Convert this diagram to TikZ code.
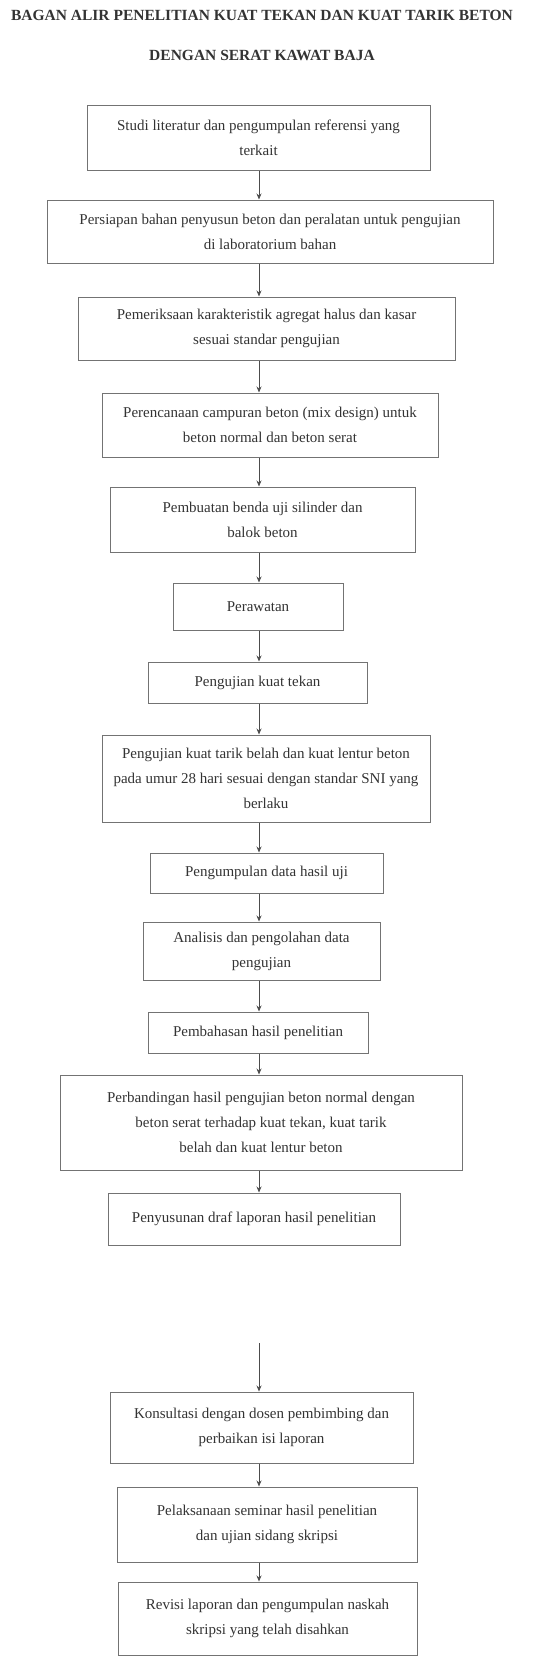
\documentclass[tikz,border=0pt]{standalone}
\usepackage{fontspec}
\setmainfont{Liberation Serif}
\usetikzlibrary{arrows.meta}
\begin{document}
\begin{tikzpicture}[x=1pt,y=-1pt,
    kotak/.style={draw=black!55, line width=1pt, align=center, inner sep=0pt,
      font=\fontsize{15}{25}\selectfont, text=black!80},
    panah/.style={-{Stealth[length=6pt,width=5pt]}, draw=black!70, line width=0.8pt}]
  \useasboundingbox (0,0) rectangle (557,1662);
  \coordinate (kol) at (259,0);

  \node [font=\bfseries\fontsize{15.5}{40}\selectfont, align=center, text=black!80] (judul) at (262,35)
    {BAGAN ALIR PENELITIAN KUAT TEKAN DAN KUAT TARIK BETON\\ DENGAN SERAT KAWAT BAJA};

  \node [kotak, minimum width=343pt, minimum height=65pt] (b1) at (258.5,137.5)
    {Studi literatur dan pengumpulan referensi yang\\ terkait};
  \node [kotak, minimum width=446pt, minimum height=63pt] (b2) at (270,231.5)
    {Persiapan bahan penyusun beton dan peralatan untuk pengujian\\ di laboratorium bahan};
  \node [kotak, minimum width=377pt, minimum height=63pt] (b3) at (266.5,328.5)
    {Pemeriksaan karakteristik agregat halus dan kasar\\ sesuai standar pengujian};
  \node [kotak, minimum width=336pt, minimum height=64pt] (b4) at (270,425)
    {Perencanaan campuran beton (mix design) untuk\\ beton normal dan beton serat};
  \node [kotak, minimum width=305pt, minimum height=65pt] (b5) at (262.5,519.5)
    {Pembuatan benda uji silinder dan\\ balok beton};
  \node [kotak, minimum width=170pt, minimum height=47pt] (b6) at (258,606.5)
    {Perawatan};
  \node [kotak, minimum width=219pt, minimum height=41pt] (b7) at (257.5,682.5)
    {Pengujian kuat tekan};
  \node [kotak, minimum width=328pt, minimum height=87pt] (b8) at (266,778.5)
    {Pengujian kuat tarik belah dan kuat lentur beton\\ pada umur 28 hari sesuai dengan standar SNI yang\\ berlaku};
  \node [kotak, minimum width=233pt, minimum height=40pt] (b9) at (266.5,873)
    {Pengumpulan data hasil uji};
  \node [kotak, minimum width=237pt, minimum height=58pt] (b10) at (261.5,951)
    {Analisis dan pengolahan data\\ pengujian};
  \node [kotak, minimum width=220pt, minimum height=41pt] (b11) at (258,1032.5)
    {Pembahasan hasil penelitian};
  \node [kotak, minimum width=402pt, minimum height=95pt] (b12) at (261,1122.5)
    {Perbandingan hasil pengujian beton normal dengan\\ beton serat terhadap kuat tekan, kuat tarik\\ belah dan kuat lentur beton};
  \node [kotak, minimum width=292pt, minimum height=52pt] (b13) at (254,1219)
    {Penyusunan draf laporan hasil penelitian};

  % lanjutan halaman berikutnya
  \coordinate (sambung) at (259,1343);
  \node [kotak, minimum width=303pt, minimum height=71pt] (b14) at (261.5,1427.5)
    {Konsultasi dengan dosen pembimbing dan\\ perbaikan isi laporan};
  \node [kotak, minimum width=300pt, minimum height=75pt] (b15) at (267,1524.5)
    {Pelaksanaan seminar hasil penelitian\\ dan ujian sidang skripsi};
  \node [kotak, minimum width=299pt, minimum height=73pt] (b16) at (267.5,1618.5)
    {Revisi laporan dan pengumpulan naskah\\ skripsi yang telah disahkan};

  \foreach \a/\b in {b1/b2,b2/b3,b3/b4,b4/b5,b5/b6,b6/b7,b7/b8,b8/b9,b9/b10,b10/b11,b11/b12,b12/b13,b14/b15,b15/b16}
    \draw [panah] (\a.south -| kol) -- (\b.north -| kol);
  \draw [panah] (sambung) -- (b14.north -| sambung);
\end{tikzpicture}
\end{document}
